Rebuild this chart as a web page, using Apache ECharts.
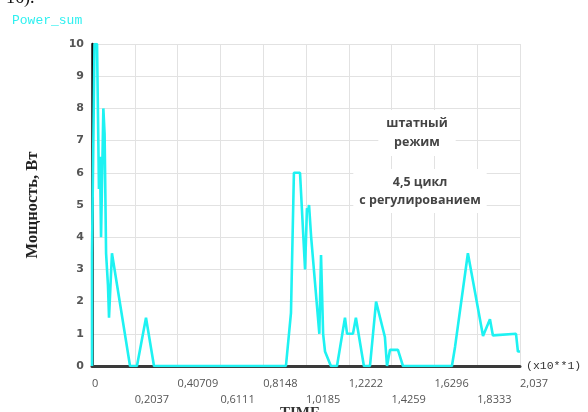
<!DOCTYPE html>
<html>
<head>
<meta charset="utf-8">
<script src="https://cdn.jsdelivr.net/npm/echarts@6/dist/echarts.min.js"></script>
<style>html,body{margin:0;padding:0;background:#fff}#c{width:588px;height:412px}</style>
</head>
<body>
<div id="c"></div>
<script>
// ---- data ----
const seriesName = 'Power_sum';
const timeVals = [0,0,0.012,0.024,0.033,0.038,0.043,0.054,0.060,0.067,0.076,0.081,0.095,0.181,0.214,0.257,0.295,
  0.923,0.947,0.961,0.990,1.014,1.023,1.028,1.033,1.043,1.082,1.090,1.100,1.109,1.118,1.137,1.166,1.204,1.214,1.242,1.256,1.294,1.323,1.352,1.394,1.404,1.418,1.456,1.480,
  1.713,1.728,1.789,1.794,1.861,1.894,1.908,2.018,2.027,2.037];
const powerVals = [0,3.5,10,10,5.5,6.5,4.0,8.0,7.2,3.5,2.5,1.5,3.5,0,0,1.5,0,
  0,1.65,6,6,3.0,4.9,4.8,5.0,4.0,1.0,3.45,1.0,0.45,0.4,0,0,1.5,1.0,1.0,1.5,0,0,2.0,0.9,0,0.5,0.5,0,
  0,0.6,3.5,3.5,0.93,1.45,0.95,1.0,0.45,0.45];
const xTickLabels = ['0','0,2037','0,40709','0,6111','0,8148','1,0185','1,2222','1,4259','1,6296','1,8333','2,037'];
const xStep = 0.2037;
const xMax = 2.037;
const yMax = 10;
const yLabel = 'Мощность, Вт';
const xUnitLabel = '(x10**1)';
const xTitle = 'TIME';
const note1 = 'штатный\nрежим';
const note2 = '4,5 цикл\nс регулированием';

const chart = echarts.init(document.getElementById('c'), null, {renderer: 'canvas'});
const data = timeVals.map((t, i) => [t, powerVals[i]]);

chart.setOption({
  animation: false,
  backgroundColor: '#fff',
  title: {
    text: seriesName, left: 7, top: 9,
    textStyle: {fontFamily: 'Liberation Mono', fontSize: 13, fontWeight: 'normal', color: '#2ff0f0'}
  },
  grid: {left: 92, right: 68, top: 44, bottom: 46},
  xAxis: {
    type: 'value', min: 0, max: xMax, interval: xStep, offset: 2,
    name: xUnitLabel, nameLocation: 'end', nameGap: 6,
    nameTextStyle: {fontFamily: 'Liberation Mono', fontSize: 11.5, color: '#333', verticalAlign: 'middle', padding: [0, 0, 10, 0]},
    axisLine: {show: true, lineStyle: {color: '#3a3a3a', width: 3}},
    axisTick: {show: false},
    splitLine: {show: true, lineStyle: {color: '#e2e2e2', width: 1}},
    axisLabel: {
      align: 'left', margin: 8, lineHeight: 16,
      fontFamily: 'Open Sans', fontSize: 11, color: '#555',
      formatter: (v, idx) => {
        const i = Math.round(v / xStep);
        const s = xTickLabels[i] !== undefined ? xTickLabels[i] : '';
        return i % 2 === 1 ? '\n' + s : s;
      }
    }
  },
  yAxis: {
    type: 'value', min: 0, max: yMax, interval: 1,
    name: yLabel, nameLocation: 'middle', nameGap: 51,
    nameTextStyle: {fontFamily: 'Liberation Serif', fontSize: 16.5, fontWeight: 'bold', color: '#222'},
    axisLine: {show: true, lineStyle: {color: '#111', width: 2.5}},
    axisTick: {show: false},
    splitLine: {show: true, lineStyle: {color: '#e2e2e2', width: 1}},
    axisLabel: {margin: 8, fontFamily: 'DejaVu Sans', fontSize: 11, fontWeight: 'bold', color: '#555'}
  },
  series: [{
    name: seriesName, type: 'line', data: data, symbol: 'none', z: 5,
    lineStyle: {color: '#1ef2f2', width: 2.6}
  }],
  graphic: [
    {type: 'text', left: 6, top: -11, z: 100,
     style: {text: '16).', font: '18px "Liberation Serif"', fill: '#111'}},
    {type: 'text', x: 417, y: 133, z: 100,
     style: {text: note1, font: 'bold 12.5px "Open Sans"', fill: '#444', align: 'center', verticalAlign: 'middle',
             lineHeight: 19, backgroundColor: '#fff', padding: [4, 8]}},
    {type: 'text', x: 420, y: 191, z: 100,
     style: {text: note2, font: 'bold 12.5px "Open Sans"', fill: '#444', align: 'center', verticalAlign: 'middle',
             lineHeight: 18, backgroundColor: '#fff', padding: [4, 6]}},
    {type: 'text', x: 300, y: 406, z: 100,
     style: {text: xTitle, font: 'bold 15px "Liberation Serif"', fill: '#333', align: 'center'}}
  ]
});
</script>
</body>
</html>
